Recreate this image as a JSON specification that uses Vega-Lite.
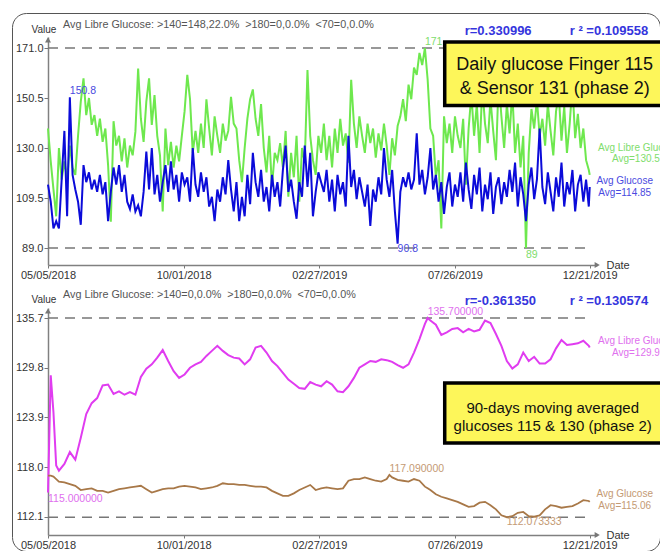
{
  "$schema": "https://vega.github.io/schema/vega-lite/v6.json",
  "width": 648,
  "height": 538,
  "autosize": {"type": "none"},
  "padding": {"left": 12, "top": 13, "right": 0, "bottom": 0},
  "background": "#ffffff",
  "view": {"stroke": "#555555", "strokeWidth": 1, "cornerRadius": 14, "fill": "#ffffff"},
  "config": {
    "font": "Liberation Sans",
    "view": {"stroke": "#555555", "strokeWidth": 1, "cornerRadius": 14},
    "axis": {"grid": false, "labelFont": "Liberation Sans", "titleFont": "Liberation Sans"}
  },
  "datasets": {
    "daily": [
      {"date":"2018-05-05","finger":115,"sensor":138},{"date":"2018-05-08","finger":108,"sensor":124.5},{"date":"2018-05-11","finger":97,"sensor":113},{"date":"2018-05-14","finger":100,"sensor":102},
      {"date":"2018-05-17","finger":97,"sensor":130},{"date":"2018-05-20","finger":117,"sensor":117},{"date":"2018-05-23","finger":137,"sensor":124.5},{"date":"2018-05-26","finger":102,"sensor":117},
      {"date":"2018-05-29","finger":150.8,"sensor":131},{"date":"2018-06-01","finger":119,"sensor":122},{"date":"2018-06-04","finger":113,"sensor":119},{"date":"2018-06-07","finger":108,"sensor":135},
      {"date":"2018-06-10","finger":98.5,"sensor":149},{"date":"2018-06-13","finger":123,"sensor":158.6},{"date":"2018-06-16","finger":116,"sensor":143.5},{"date":"2018-06-19","finger":120,"sensor":150.5},
      {"date":"2018-06-22","finger":113,"sensor":139.5},{"date":"2018-06-25","finger":117,"sensor":143.5},{"date":"2018-06-28","finger":112,"sensor":135},{"date":"2018-07-01","finger":119,"sensor":142},
      {"date":"2018-07-04","finger":111,"sensor":132.5},{"date":"2018-07-07","finger":116,"sensor":138},{"date":"2018-07-10","finger":100,"sensor":123},{"date":"2018-07-13","finger":112,"sensor":99.8},
      {"date":"2018-07-16","finger":122,"sensor":141},{"date":"2018-07-19","finger":115,"sensor":131},{"date":"2018-07-22","finger":123,"sensor":135},{"date":"2018-07-25","finger":112,"sensor":124.5},
      {"date":"2018-07-28","finger":119,"sensor":134},{"date":"2018-07-31","finger":108,"sensor":122},{"date":"2018-08-03","finger":105,"sensor":131},{"date":"2018-08-06","finger":111,"sensor":127},
      {"date":"2018-08-09","finger":104,"sensor":136.7},{"date":"2018-08-12","finger":106.5,"sensor":162.6},{"date":"2018-08-15","finger":102,"sensor":142},{"date":"2018-08-18","finger":112,"sensor":132.5},
      {"date":"2018-08-21","finger":128.5,"sensor":149},{"date":"2018-08-24","finger":113,"sensor":158.6},{"date":"2018-08-27","finger":130,"sensor":139.5},{"date":"2018-08-30","finger":111,"sensor":151.7},
      {"date":"2018-09-02","finger":119,"sensor":135},{"date":"2018-09-05","finger":108,"sensor":127},{"date":"2018-09-08","finger":116,"sensor":104},{"date":"2018-09-11","finger":123,"sensor":138},
      {"date":"2018-09-14","finger":112,"sensor":123},{"date":"2018-09-17","finger":124.5,"sensor":132.5},{"date":"2018-09-20","finger":113,"sensor":122},{"date":"2018-09-23","finger":119,"sensor":131},
      {"date":"2018-09-26","finger":108,"sensor":124.5},{"date":"2018-09-29","finger":120,"sensor":135},{"date":"2018-10-02","finger":115,"sensor":145},{"date":"2018-10-05","finger":118,"sensor":160},
      {"date":"2018-10-08","finger":108,"sensor":150},{"date":"2018-10-11","finger":130,"sensor":128},{"date":"2018-10-14","finger":115,"sensor":137},{"date":"2018-10-17","finger":110,"sensor":128},
      {"date":"2018-10-20","finger":120,"sensor":140},{"date":"2018-10-23","finger":112,"sensor":130},{"date":"2018-10-26","finger":118,"sensor":150},{"date":"2018-10-29","finger":106,"sensor":138},
      {"date":"2018-11-01","finger":110,"sensor":127},{"date":"2018-11-04","finger":100,"sensor":143},{"date":"2018-11-07","finger":113,"sensor":135},{"date":"2018-11-10","finger":108,"sensor":128},
      {"date":"2018-11-13","finger":118,"sensor":140},{"date":"2018-11-16","finger":111,"sensor":133},{"date":"2018-11-19","finger":125,"sensor":137},{"date":"2018-11-22","finger":113,"sensor":151},
      {"date":"2018-11-25","finger":104,"sensor":140},{"date":"2018-11-28","finger":116,"sensor":138},{"date":"2018-12-01","finger":100,"sensor":125},{"date":"2018-12-04","finger":110,"sensor":116},
      {"date":"2018-12-07","finger":102,"sensor":130},{"date":"2018-12-10","finger":119,"sensor":142},{"date":"2018-12-13","finger":107,"sensor":150},{"date":"2018-12-16","finger":128,"sensor":154},
      {"date":"2018-12-19","finger":116,"sensor":142},{"date":"2018-12-22","finger":110,"sensor":135},{"date":"2018-12-25","finger":121,"sensor":148},{"date":"2018-12-28","finger":108,"sensor":130},
      {"date":"2018-12-31","finger":114,"sensor":120},{"date":"2019-01-03","finger":104,"sensor":135},{"date":"2019-01-06","finger":119,"sensor":114},{"date":"2019-01-09","finger":110,"sensor":128},
      {"date":"2019-01-12","finger":116,"sensor":125},{"date":"2019-01-15","finger":106,"sensor":132},{"date":"2019-01-18","finger":121,"sensor":122},{"date":"2019-01-21","finger":131,"sensor":137},
      {"date":"2019-01-24","finger":112,"sensor":110},{"date":"2019-01-27","finger":117,"sensor":128},{"date":"2019-01-30","finger":108,"sensor":118},{"date":"2019-02-02","finger":101,"sensor":135},
      {"date":"2019-02-05","finger":116,"sensor":108},{"date":"2019-02-08","finger":110,"sensor":130},{"date":"2019-02-11","finger":131,"sensor":124},{"date":"2019-02-14","finger":114,"sensor":162},
      {"date":"2019-02-17","finger":128,"sensor":135},{"date":"2019-02-20","finger":102,"sensor":125},{"date":"2019-02-23","finger":112,"sensor":119},{"date":"2019-02-26","finger":120,"sensor":135},
      {"date":"2019-03-01","finger":116,"sensor":128},{"date":"2019-03-04","finger":112,"sensor":140},{"date":"2019-03-07","finger":121,"sensor":125},{"date":"2019-03-10","finger":108,"sensor":135},
      {"date":"2019-03-13","finger":117,"sensor":122},{"date":"2019-03-16","finger":104,"sensor":138},{"date":"2019-03-19","finger":119,"sensor":128},{"date":"2019-03-22","finger":111,"sensor":142},
      {"date":"2019-03-25","finger":116,"sensor":131},{"date":"2019-03-28","finger":106,"sensor":136},{"date":"2019-03-31","finger":135,"sensor":124},{"date":"2019-04-03","finger":114,"sensor":158},
      {"date":"2019-04-06","finger":121,"sensor":140},{"date":"2019-04-09","finger":109,"sensor":130},{"date":"2019-04-12","finger":118,"sensor":143},{"date":"2019-04-15","finger":112,"sensor":135},
      {"date":"2019-04-18","finger":106,"sensor":128},{"date":"2019-04-21","finger":115,"sensor":140},{"date":"2019-04-24","finger":98,"sensor":132},{"date":"2019-04-27","finger":113,"sensor":138},
      {"date":"2019-04-30","finger":108,"sensor":126},{"date":"2019-05-03","finger":118,"sensor":136},{"date":"2019-05-06","finger":111,"sensor":129},{"date":"2019-05-09","finger":130,"sensor":140},
      {"date":"2019-05-12","finger":117,"sensor":131},{"date":"2019-05-15","finger":110,"sensor":119},{"date":"2019-05-18","finger":121,"sensor":134},{"date":"2019-05-21","finger":104,"sensor":127},
      {"date":"2019-05-24","finger":90.8,"sensor":139},{"date":"2019-05-27","finger":112,"sensor":143},{"date":"2019-05-30","finger":118,"sensor":150},{"date":"2019-06-02","finger":114,"sensor":141},
      {"date":"2019-06-05","finger":120,"sensor":156},{"date":"2019-06-08","finger":113,"sensor":150},{"date":"2019-06-11","finger":117,"sensor":163},{"date":"2019-06-14","finger":136,"sensor":160},
      {"date":"2019-06-17","finger":115,"sensor":169},{"date":"2019-06-20","finger":121,"sensor":164},{"date":"2019-06-23","finger":111,"sensor":171},{"date":"2019-06-26","finger":118,"sensor":158},
      {"date":"2019-06-29","finger":130,"sensor":138},{"date":"2019-07-02","finger":113,"sensor":135},{"date":"2019-07-05","finger":119,"sensor":118},{"date":"2019-07-08","finger":108,"sensor":125},
      {"date":"2019-07-11","finger":116,"sensor":97},{"date":"2019-07-14","finger":103,"sensor":143},{"date":"2019-07-17","finger":114,"sensor":132},{"date":"2019-07-20","finger":120,"sensor":140},
      {"date":"2019-07-23","finger":106,"sensor":128},{"date":"2019-07-26","finger":115,"sensor":143},{"date":"2019-07-29","finger":110,"sensor":135},{"date":"2019-08-01","finger":120,"sensor":130},
      {"date":"2019-08-04","finger":108,"sensor":142},{"date":"2019-08-07","finger":124,"sensor":115},{"date":"2019-08-10","finger":113,"sensor":138},{"date":"2019-08-13","finger":105,"sensor":152},
      {"date":"2019-08-16","finger":119,"sensor":135},{"date":"2019-08-19","finger":111,"sensor":148},{"date":"2019-08-22","finger":122,"sensor":128},{"date":"2019-08-25","finger":104,"sensor":155},
      {"date":"2019-08-28","finger":115,"sensor":140},{"date":"2019-08-31","finger":109,"sensor":132},{"date":"2019-09-03","finger":120,"sensor":150},{"date":"2019-09-06","finger":103,"sensor":137},
      {"date":"2019-09-09","finger":114,"sensor":125},{"date":"2019-09-12","finger":118,"sensor":158},{"date":"2019-09-15","finger":107,"sensor":143},{"date":"2019-09-18","finger":116,"sensor":130},
      {"date":"2019-09-21","finger":110,"sensor":148},{"date":"2019-09-24","finger":121,"sensor":136},{"date":"2019-09-27","finger":112,"sensor":153},{"date":"2019-09-30","finger":124,"sensor":128},
      {"date":"2019-10-03","finger":106,"sensor":140},{"date":"2019-10-06","finger":118,"sensor":122},{"date":"2019-10-09","finger":111,"sensor":135},{"date":"2019-10-12","finger":100,"sensor":89},
      {"date":"2019-10-15","finger":115,"sensor":128},{"date":"2019-10-18","finger":122,"sensor":146},{"date":"2019-10-21","finger":109,"sensor":138},{"date":"2019-10-24","finger":117,"sensor":150},
      {"date":"2019-10-27","finger":138,"sensor":135},{"date":"2019-10-30","finger":114,"sensor":142},{"date":"2019-11-02","finger":107,"sensor":131},{"date":"2019-11-05","finger":120,"sensor":148},
      {"date":"2019-11-08","finger":112,"sensor":137},{"date":"2019-11-11","finger":104,"sensor":127},{"date":"2019-11-14","finger":118,"sensor":145},{"date":"2019-11-17","finger":110,"sensor":152},
      {"date":"2019-11-20","finger":124,"sensor":133},{"date":"2019-11-23","finger":106,"sensor":147},{"date":"2019-11-26","finger":116,"sensor":128},{"date":"2019-11-29","finger":111,"sensor":140},
      {"date":"2019-12-02","finger":121,"sensor":156},{"date":"2019-12-05","finger":104,"sensor":134},{"date":"2019-12-08","finger":115,"sensor":144},{"date":"2019-12-11","finger":119,"sensor":130},
      {"date":"2019-12-14","finger":108,"sensor":138},{"date":"2019-12-17","finger":117,"sensor":125},{"date":"2019-12-20","finger":106,"sensor":121},{"date":"2019-12-21","finger":114,"sensor":119}
    ],
    "moving": [
      {"date":"2018-05-05","finger90":117.0,"sensor90":115.0},{"date":"2018-05-08","finger90":117.0,"sensor90":128.9},{"date":"2018-05-11","finger90":116.9,"sensor90":124.5},
      {"date":"2018-05-14","finger90":116.6,"sensor90":118.2},{"date":"2018-05-17","finger90":116.3,"sensor90":117.6},{"date":"2018-05-23","finger90":116.2,"sensor90":118.4},
      {"date":"2018-05-29","finger90":116.0,"sensor90":119.8},{"date":"2018-06-04","finger90":115.8,"sensor90":118.9},{"date":"2018-06-10","finger90":115.3,"sensor90":121.5},
      {"date":"2018-06-16","finger90":115.4,"sensor90":124.3},{"date":"2018-06-22","finger90":115.5,"sensor90":125.6},{"date":"2018-06-28","finger90":115.2,"sensor90":126.2},
      {"date":"2018-07-04","finger90":115.2,"sensor90":127.7},{"date":"2018-07-10","finger90":115.0,"sensor90":127.8},{"date":"2018-07-16","finger90":115.2,"sensor90":126.7},
      {"date":"2018-07-22","finger90":115.4,"sensor90":127.0},{"date":"2018-07-28","finger90":115.5,"sensor90":126.6},{"date":"2018-08-03","finger90":115.6,"sensor90":126.9},
      {"date":"2018-08-09","finger90":115.7,"sensor90":126.6},{"date":"2018-08-15","finger90":115.8,"sensor90":128.7},{"date":"2018-08-21","finger90":115.4,"sensor90":129.7},
      {"date":"2018-08-27","finger90":115.0,"sensor90":130.2},{"date":"2018-09-02","finger90":115.2,"sensor90":131.0},{"date":"2018-09-08","finger90":115.4,"sensor90":131.9},
      {"date":"2018-09-14","finger90":115.5,"sensor90":130.6},{"date":"2018-09-20","finger90":115.5,"sensor90":129.4},{"date":"2018-09-26","finger90":115.7,"sensor90":128.6},
      {"date":"2018-10-02","finger90":115.8,"sensor90":129.0},{"date":"2018-10-08","finger90":115.7,"sensor90":129.8},{"date":"2018-10-14","finger90":115.6,"sensor90":130.2},
      {"date":"2018-10-20","finger90":115.4,"sensor90":130.5},{"date":"2018-10-26","finger90":115.5,"sensor90":131.2},{"date":"2018-11-01","finger90":115.6,"sensor90":131.8},
      {"date":"2018-11-07","finger90":115.8,"sensor90":132.4},{"date":"2018-11-13","finger90":116.1,"sensor90":131.8},{"date":"2018-11-19","finger90":116.0,"sensor90":131.3},
      {"date":"2018-11-25","finger90":116.0,"sensor90":131.0},{"date":"2018-12-01","finger90":115.9,"sensor90":130.9},{"date":"2018-12-07","finger90":115.9,"sensor90":130.2},
      {"date":"2018-12-13","finger90":115.8,"sensor90":130.8},{"date":"2018-12-19","finger90":115.7,"sensor90":132.2},{"date":"2018-12-25","finger90":115.7,"sensor90":132.4},
      {"date":"2018-12-31","finger90":115.6,"sensor90":131.6},{"date":"2019-01-06","finger90":115.2,"sensor90":130.6},{"date":"2019-01-12","finger90":114.9,"sensor90":130.0},
      {"date":"2019-01-18","finger90":114.6,"sensor90":129.2},{"date":"2019-01-24","finger90":114.6,"sensor90":128.4},{"date":"2019-01-30","finger90":114.9,"sensor90":127.9},
      {"date":"2019-02-05","finger90":115.3,"sensor90":127.4},{"date":"2019-02-11","finger90":115.6,"sensor90":127.3},{"date":"2019-02-17","finger90":115.9,"sensor90":128.1},
      {"date":"2019-02-23","finger90":115.3,"sensor90":127.8},{"date":"2019-03-01","finger90":115.5,"sensor90":127.6},{"date":"2019-03-07","finger90":115.6,"sensor90":128.2},
      {"date":"2019-03-13","finger90":115.5,"sensor90":127.8},{"date":"2019-03-19","finger90":115.4,"sensor90":127.0},{"date":"2019-03-25","finger90":115.5,"sensor90":126.9},
      {"date":"2019-03-31","finger90":116.4,"sensor90":127.6},{"date":"2019-04-06","finger90":116.6,"sensor90":128.6},{"date":"2019-04-12","finger90":116.6,"sensor90":129.8},
      {"date":"2019-04-18","finger90":116.8,"sensor90":130.2},{"date":"2019-04-24","finger90":116.6,"sensor90":130.6},{"date":"2019-04-30","finger90":116.4,"sensor90":130.5},
      {"date":"2019-05-06","finger90":116.3,"sensor90":130.8},{"date":"2019-05-12","finger90":116.6,"sensor90":130.7},{"date":"2019-05-15","finger90":117.09,"sensor90":130.6},
      {"date":"2019-05-18","finger90":116.8,"sensor90":130.5},{"date":"2019-05-24","finger90":116.5,"sensor90":130.1},{"date":"2019-05-30","finger90":116.4,"sensor90":129.8},
      {"date":"2019-06-05","finger90":116.3,"sensor90":130.2},{"date":"2019-06-11","finger90":116.6,"sensor90":131.6},{"date":"2019-06-17","finger90":116.4,"sensor90":133.2},
      {"date":"2019-06-23","finger90":115.7,"sensor90":135.0},{"date":"2019-06-26","finger90":115.5,"sensor90":135.7},{"date":"2019-06-29","finger90":115.3,"sensor90":135.4},
      {"date":"2019-07-05","finger90":114.8,"sensor90":134.9},{"date":"2019-07-11","finger90":114.5,"sensor90":133.7},{"date":"2019-07-17","finger90":114.3,"sensor90":134.0},
      {"date":"2019-07-23","finger90":114.1,"sensor90":134.4},{"date":"2019-07-29","finger90":113.9,"sensor90":134.5},{"date":"2019-08-04","finger90":113.6,"sensor90":134.0},
      {"date":"2019-08-10","finger90":113.3,"sensor90":134.4},{"date":"2019-08-16","finger90":113.4,"sensor90":134.1},{"date":"2019-08-22","finger90":113.8,"sensor90":134.3},
      {"date":"2019-08-28","finger90":113.9,"sensor90":135.4},{"date":"2019-09-03","finger90":113.5,"sensor90":135.1},{"date":"2019-09-09","finger90":113.0,"sensor90":133.8},
      {"date":"2019-09-15","finger90":112.3,"sensor90":132.4},{"date":"2019-09-21","finger90":112.073333,"sensor90":130.6},{"date":"2019-09-27","finger90":112.2,"sensor90":129.7},
      {"date":"2019-10-03","finger90":112.6,"sensor90":130.2},{"date":"2019-10-09","finger90":112.7,"sensor90":131.6},{"date":"2019-10-15","finger90":112.2,"sensor90":130.6},
      {"date":"2019-10-21","finger90":112.15,"sensor90":131.1},{"date":"2019-10-27","finger90":112.3,"sensor90":130.3},{"date":"2019-11-02","finger90":113.0,"sensor90":130.3},
      {"date":"2019-11-08","finger90":113.5,"sensor90":130.8},{"date":"2019-11-14","finger90":113.4,"sensor90":132.1},{"date":"2019-11-20","finger90":113.2,"sensor90":133.1},
      {"date":"2019-11-26","finger90":113.3,"sensor90":132.5},{"date":"2019-12-02","finger90":113.4,"sensor90":132.6},{"date":"2019-12-08","finger90":113.7,"sensor90":132.7},
      {"date":"2019-12-14","finger90":114.1,"sensor90":133.0},{"date":"2019-12-20","finger90":114.0,"sensor90":132.4},{"date":"2019-12-21","finger90":113.9,"sensor90":132.2}
    ]
  },
  "layer": [
    {
      "data": {"name": "daily"},
      "encoding": {
        "x": {
          "field": "date", "type": "temporal",
          "scale": {"type": "utc", "nice": false, "range": [36, 585],
            "domain": [{"year": 2018, "month": 5, "date": 5, "utc": true}, {"year": 2019, "month": 12, "date": 29, "utc": true}]},
          "axis": {
            "orient": "bottom", "offset": -286,
            "values": [{"year": 2018, "month": 5, "date": 5, "utc": true}, {"year": 2018, "month": 10, "date": 1, "utc": true}, {"year": 2019, "month": 2, "date": 27, "utc": true}, {"year": 2019, "month": 7, "date": 26, "utc": true}, {"year": 2019, "month": 12, "date": 21, "utc": true}],
            "labelExpr": "utcFormat(datum.value, '%m/%d/%Y')",
            "labelFlush": false, "labelOverlap": false, "labelFontSize": 11, "labelColor": "#333333", "labelPadding": 1,
            "tickSize": 3, "tickColor": "#777777", "domainColor": "#808080", "domainWidth": 1.5,
            "title": "Date", "titleX": 594, "titleY": 0, "titleAlign": "left", "titleBaseline": "middle", "titleAngle": 0,
            "titleFontSize": 11, "titleFontWeight": "normal", "titleColor": "#333333"
          }
        }
      },
      "layer": [
        {
          "mark": {"type": "rule", "strokeDash": [10, 7], "color": "#777777", "strokeWidth": 1.5},
          "encoding": {
            "x": {"aggregate": "min", "field": "date", "type": "temporal"},
            "x2": {"aggregate": "max", "field": "date"},
            "y": {"aggregate": "max", "field": "sensor", "type": "quantitative"}
          }
        },
        {
          "mark": {"type": "rule", "strokeDash": [10, 7], "color": "#777777", "strokeWidth": 1.5},
          "encoding": {
            "x": {"aggregate": "min", "field": "date", "type": "temporal"},
            "x2": {"aggregate": "max", "field": "date"},
            "y": {"aggregate": "min", "field": "sensor", "type": "quantitative"}
          }
        },
        {
          "mark": {"type": "line", "color": "#6ee84e", "strokeWidth": 2},
          "encoding": {
            "y": {
              "field": "sensor", "type": "quantitative",
              "scale": {"domain": [82.03, 175.51], "range": [252, 24], "nice": false, "zero": false},
              "axis": {
                "orient": "left", "offset": -36, "values": [171.0, 150.5, 130.0, 109.5, 89.0], "format": ".1f",
                "labelFontSize": 11, "labelColor": "#333333", "labelPadding": 1, "tickSize": 4, "tickColor": "#777777",
                "domainColor": "#808080", "domainWidth": 1.5,
                "title": "Value", "titleAngle": 0, "titleX": -4.5, "titleY": 16, "titleAlign": "center", "titleBaseline": "middle",
                "titleFontSize": 10, "titleFontWeight": "normal", "titleColor": "#333333"
              }
            }
          }
        },
        {
          "mark": {"type": "line", "color": "#0b0bd9", "strokeWidth": 2},
          "encoding": {"y": {"field": "finger", "type": "quantitative"}}
        },
        {
          "transform": [{"joinaggregate": [{"op": "max", "field": "sensor", "as": "peak"}]}, {"filter": "datum.sensor === datum.peak"}],
          "mark": {"type": "text", "align": "left", "baseline": "bottom", "dy": -1, "fontSize": 10.5, "color": "#80dd6c"},
          "encoding": {"y": {"field": "sensor", "type": "quantitative"}, "text": {"field": "sensor", "type": "nominal"}}
        },
        {
          "transform": [{"joinaggregate": [{"op": "min", "field": "sensor", "as": "low"}]}, {"filter": "datum.sensor === datum.low"}],
          "mark": {"type": "text", "align": "left", "baseline": "top", "dy": 2, "fontSize": 10.5, "color": "#80dd6c"},
          "encoding": {"y": {"field": "sensor", "type": "quantitative"}, "text": {"field": "sensor", "type": "nominal"}}
        },
        {
          "transform": [{"joinaggregate": [{"op": "max", "field": "finger", "as": "peak"}]}, {"filter": "datum.finger === datum.peak"}],
          "mark": {"type": "text", "align": "left", "baseline": "bottom", "dy": -1, "fontSize": 10.5, "color": "#4a4ae0"},
          "encoding": {"y": {"field": "finger", "type": "quantitative"}, "text": {"field": "finger", "type": "nominal"}}
        },
        {
          "transform": [{"joinaggregate": [{"op": "min", "field": "finger", "as": "low"}]}, {"filter": "datum.finger === datum.low"}],
          "mark": {"type": "text", "align": "left", "baseline": "top", "dy": 0, "fontSize": 10.5, "color": "#4a4ae0"},
          "encoding": {"y": {"field": "finger", "type": "quantitative"}, "text": {"field": "finger", "type": "nominal"}}
        },
        {
          "mark": {"type": "text", "align": "left", "baseline": "middle", "dx": 15, "dy": -12, "fontSize": 10.8, "color": "#555555",
            "text": "Avg Libre Glucose: >140=148,22.0% \u00a0>180=0,0.0% \u00a0<70=0,0.0%"},
          "encoding": {"x": {"aggregate": "min", "field": "date", "type": "temporal"}, "y": {"datum": 175.51}}
        },
        {
          "mark": {"type": "text", "align": "left", "baseline": "middle", "dx": -125, "dy": -6, "fontSize": 13, "fontWeight": "bold", "color": "#3535dd",
            "text": "r=0.330996"},
          "encoding": {"x": {"aggregate": "max", "field": "date", "type": "temporal"}, "y": {"datum": 175.51}}
        },
        {
          "mark": {"type": "text", "align": "left", "baseline": "middle", "dx": -20, "dy": -6, "fontSize": 13, "fontWeight": "bold", "color": "#3535dd",
            "text": "r ² =0.109558"},
          "encoding": {"x": {"aggregate": "max", "field": "date", "type": "temporal"}, "y": {"datum": 175.51}}
        },
        {
          "mark": {"type": "rect", "fill": "#fdf65a", "stroke": "#000000", "strokeWidth": 3.5, "xOffset": -145, "x2Offset": 80},
          "encoding": {
            "x": {"aggregate": "max", "field": "date", "type": "temporal"},
            "x2": {"aggregate": "max", "field": "date"},
            "y": {"datum": 173.46},
            "y2": {"datum": 147.42}
          }
        },
        {
          "mark": {"type": "text", "align": "center", "baseline": "alphabetic", "dx": -35, "fontSize": 18, "lineHeight": 24, "color": "#111111",
            "text": ["Daily glucose Finger 115", "& Sensor 131 (phase 2)"]},
          "encoding": {"x": {"aggregate": "max", "field": "date", "type": "temporal"}, "y": {"datum": 161.78}}
        },
        {
          "mark": {"type": "text", "align": "center", "baseline": "alphabetic", "dx": 49, "fontSize": 10, "lineHeight": 11.5, "color": "#80dd6c",
            "text": ["Avg Libre Glucose", "Avg=130.57"]},
          "encoding": {"x": {"aggregate": "max", "field": "date", "type": "temporal"}, "y": {"datum": 128.97}}
        },
        {
          "mark": {"type": "text", "align": "center", "baseline": "alphabetic", "dx": 35, "fontSize": 10, "lineHeight": 12, "color": "#4a4ae0",
            "text": ["Avg Glucose", "Avg=114.85"]},
          "encoding": {"x": {"aggregate": "max", "field": "date", "type": "temporal"}, "y": {"datum": 115.44}}
        },
        {
          "mark": {"type": "point", "shape": "triangle-up", "filled": true, "size": 36, "color": "#777777", "opacity": 1},
          "encoding": {"x": {"aggregate": "min", "field": "date", "type": "temporal"}, "y": {"datum": 174.3}}
        },
        {
          "mark": {"type": "point", "shape": "triangle-right", "filled": true, "size": 36, "color": "#777777", "opacity": 1, "xOffset": 7.5},
          "encoding": {"x": {"aggregate": "max", "field": "date", "type": "temporal"}, "y": {"datum": 82.03}}
        }
      ]
    },
    {
      "data": {"name": "moving"},
      "encoding": {
        "x": {
          "field": "date", "type": "temporal",
          "scale": {"type": "utc", "nice": false, "range": [36, 585],
            "domain": [{"year": 2018, "month": 5, "date": 5, "utc": true}, {"year": 2019, "month": 12, "date": 29, "utc": true}]},
          "axis": {
            "orient": "bottom", "offset": -16,
            "values": [{"year": 2018, "month": 5, "date": 5, "utc": true}, {"year": 2018, "month": 10, "date": 1, "utc": true}, {"year": 2019, "month": 2, "date": 27, "utc": true}, {"year": 2019, "month": 7, "date": 26, "utc": true}, {"year": 2019, "month": 12, "date": 21, "utc": true}],
            "labelExpr": "utcFormat(datum.value, '%m/%d/%Y')",
            "labelFlush": false, "labelOverlap": false, "labelFontSize": 11, "labelColor": "#333333", "labelPadding": 1,
            "tickSize": 3, "tickColor": "#777777", "domainColor": "#808080", "domainWidth": 1.5,
            "title": "Date", "titleX": 594, "titleY": 0, "titleAlign": "left", "titleBaseline": "middle", "titleAngle": 0,
            "titleFontSize": 11, "titleFontWeight": "normal", "titleColor": "#333333"
          }
        }
      },
      "layer": [
        {
          "mark": {"type": "rule", "strokeDash": [10, 7], "color": "#777777", "strokeWidth": 1.5},
          "encoding": {
            "x": {"aggregate": "min", "field": "date", "type": "temporal"},
            "x2": {"aggregate": "max", "field": "date"},
            "y": {"aggregate": "max", "field": "sensor90", "type": "quantitative"}
          }
        },
        {
          "mark": {"type": "rule", "strokeDash": [10, 7], "color": "#777777", "strokeWidth": 1.5},
          "encoding": {
            "x": {"aggregate": "min", "field": "date", "type": "temporal"},
            "x2": {"aggregate": "max", "field": "date"},
            "y": {"aggregate": "min", "field": "finger90", "type": "quantitative"}
          }
        },
        {
          "mark": {"type": "line", "color": "#e03cf0", "strokeWidth": 2},
          "encoding": {
            "y": {
              "field": "sensor90", "type": "quantitative",
              "scale": {"domain": [109.965, 136.886], "range": [522, 295], "nice": false, "zero": false},
              "axis": {
                "orient": "left", "offset": -36, "values": [135.7, 129.8, 123.9, 118.0, 112.1], "format": ".1f",
                "labelFontSize": 11, "labelColor": "#333333", "labelPadding": 1, "tickSize": 4, "tickColor": "#777777",
                "domainColor": "#808080", "domainWidth": 1.5,
                "title": "Value", "titleAngle": 0, "titleX": -4.5, "titleY": 286, "titleAlign": "center", "titleBaseline": "middle",
                "titleFontSize": 10, "titleFontWeight": "normal", "titleColor": "#333333"
              }
            }
          }
        },
        {
          "mark": {"type": "line", "color": "#a87848", "strokeWidth": 1.8},
          "encoding": {"y": {"field": "finger90", "type": "quantitative"}}
        },
        {
          "transform": [{"joinaggregate": [{"op": "max", "field": "sensor90", "as": "peak"}]}, {"filter": "datum.sensor90 === datum.peak"}],
          "mark": {"type": "text", "align": "left", "baseline": "bottom", "dy": -1, "fontSize": 10.5, "color": "#e070ee"},
          "encoding": {"y": {"field": "sensor90", "type": "quantitative"}, "text": {"field": "sensor90", "type": "quantitative", "format": ".6f"}}
        },
        {
          "transform": [{"joinaggregate": [{"op": "min", "field": "sensor90", "as": "low"}]}, {"filter": "datum.sensor90 === datum.low"}],
          "mark": {"type": "text", "align": "left", "baseline": "top", "dy": 1, "fontSize": 10.5, "color": "#e070ee"},
          "encoding": {"y": {"field": "sensor90", "type": "quantitative"}, "text": {"field": "sensor90", "type": "quantitative", "format": ".6f"}}
        },
        {
          "transform": [{"joinaggregate": [{"op": "max", "field": "finger90", "as": "peak"}]}, {"filter": "datum.finger90 === datum.peak"}],
          "mark": {"type": "text", "align": "left", "baseline": "bottom", "dy": -1, "fontSize": 10.5, "color": "#c49a74"},
          "encoding": {"y": {"field": "finger90", "type": "quantitative"}, "text": {"field": "finger90", "type": "quantitative", "format": ".6f"}}
        },
        {
          "transform": [{"joinaggregate": [{"op": "min", "field": "finger90", "as": "low"}]}, {"filter": "datum.finger90 === datum.low"}],
          "mark": {"type": "text", "align": "left", "baseline": "top", "dy": 0, "fontSize": 10.5, "color": "#c49a74"},
          "encoding": {"y": {"field": "finger90", "type": "quantitative"}, "text": {"field": "finger90", "type": "quantitative", "format": ".6f"}}
        },
        {
          "mark": {"type": "text", "align": "left", "baseline": "middle", "dx": 15, "dy": -13, "fontSize": 10.8, "color": "#555555",
            "text": "Avg Libre Glucose: >140=0,0.0% \u00a0>180=0,0.0% \u00a0<70=0,0.0%"},
          "encoding": {"x": {"aggregate": "min", "field": "date", "type": "temporal"}, "y": {"datum": 136.886}}
        },
        {
          "mark": {"type": "text", "align": "left", "baseline": "middle", "dx": -125, "dy": -7, "fontSize": 13, "fontWeight": "bold", "color": "#3535dd",
            "text": "r=-0.361350"},
          "encoding": {"x": {"aggregate": "max", "field": "date", "type": "temporal"}, "y": {"datum": 136.886}}
        },
        {
          "mark": {"type": "text", "align": "left", "baseline": "middle", "dx": -20, "dy": -7, "fontSize": 13, "fontWeight": "bold", "color": "#3535dd",
            "text": "r ² =0.130574"},
          "encoding": {"x": {"aggregate": "max", "field": "date", "type": "temporal"}, "y": {"datum": 136.886}}
        },
        {
          "mark": {"type": "rect", "fill": "#fdf65a", "stroke": "#000000", "strokeWidth": 3.5, "xOffset": -145, "x2Offset": 80},
          "encoding": {
            "x": {"aggregate": "max", "field": "date", "type": "temporal"},
            "x2": {"aggregate": "max", "field": "date"},
            "y": {"datum": 127.99},
            "y2": {"datum": 120.88}
          }
        },
        {
          "mark": {"type": "text", "align": "center", "baseline": "alphabetic", "dx": -37, "fontSize": 15, "lineHeight": 18, "color": "#111111",
            "text": ["90-days moving averaged", "glucoses 115 & 130 (phase 2)"]},
          "encoding": {"x": {"aggregate": "max", "field": "date", "type": "temporal"}, "y": {"datum": 124.43}}
        },
        {
          "mark": {"type": "text", "align": "center", "baseline": "alphabetic", "dx": 49, "fontSize": 10, "lineHeight": 11.5, "color": "#e070ee",
            "text": ["Avg Libre Glucose", "Avg=129.93"]},
          "encoding": {"x": {"aggregate": "max", "field": "date", "type": "temporal"}, "y": {"datum": 132.56}}
        },
        {
          "mark": {"type": "text", "align": "center", "baseline": "alphabetic", "dx": 35, "fontSize": 10, "lineHeight": 12, "color": "#c49a74",
            "text": ["Avg Glucose", "Avg=115.06"]},
          "encoding": {"x": {"aggregate": "max", "field": "date", "type": "temporal"}, "y": {"datum": 114.53}}
        },
        {
          "mark": {"type": "point", "shape": "triangle-up", "filled": true, "size": 36, "color": "#777777", "opacity": 1},
          "encoding": {"x": {"aggregate": "min", "field": "date", "type": "temporal"}, "y": {"datum": 136.53}}
        },
        {
          "mark": {"type": "point", "shape": "triangle-right", "filled": true, "size": 36, "color": "#777777", "opacity": 1, "xOffset": 7.5},
          "encoding": {"x": {"aggregate": "max", "field": "date", "type": "temporal"}, "y": {"datum": 109.965}}
        }
      ]
    }
  ],
  "resolve": {"scale": {"x": "independent", "y": "independent"}, "axis": {"x": "independent", "y": "independent"}}
}
